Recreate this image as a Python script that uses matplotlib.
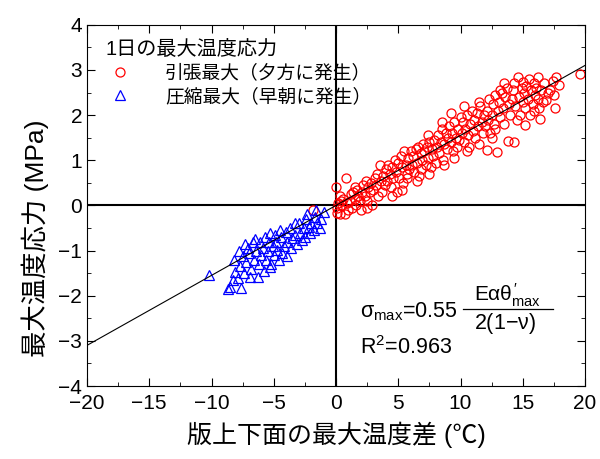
import matplotlib
matplotlib.use("Agg")
import matplotlib.pyplot as plt
import numpy as np
from matplotlib.ticker import MultipleLocator

plt.rcParams['font.family'] = ['Liberation Sans', 'Noto Sans CJK JP', 'DejaVu Sans']
plt.rcParams['mathtext.fontset'] = 'custom'
plt.rcParams['mathtext.rm'] = 'Liberation Sans'
plt.rcParams['mathtext.it'] = 'Liberation Sans'
plt.rcParams['mathtext.bf'] = 'Liberation Sans:bold'

# tension maxima (evening): top-bottom temperature difference vs stress
tension_pts = [
    (0.1, -0.05), (0.2, 0.05), (0.3, -0.2), (0.4, 0.1), (0.5, 0.0), (0.6, 0.15), (0.7, -0.2),
    (0.8, 0.6), (0.9, 0.05), (0.0, 0.4), (0.3, 0.2), (1.0, -0.1), (0.1, -0.17), (-1.85, -0.1),
    (1.1, 0.1), (1.2, 0.25), (1.3, -0.05), (1.4, 0.3), (1.5, 0.15), (1.6, 0.0), (1.7, 0.35),
    (1.8, 0.2), (1.9, 0.1), (2.0, -0.1), (1.5, 0.4),
    (2.1, 0.3), (2.2, 0.45), (2.3, 0.2), (2.4, 0.55), (2.5, 0.1), (2.6, 0.4), (2.7, 0.3),
    (2.8, 0.5), (2.9, 0.0), (3.0, 0.35), (2.5, -0.05),
    (3.1, 0.6), (3.2, 0.45), (3.3, 0.7), (3.5, 0.9), (3.6, 0.55), (3.7, 0.3), (3.8, 0.65),
    (3.9, 0.45), (4.0, 0.8), (3.4, 0.2),
    (4.1, 0.55), (4.2, 0.9), (4.3, 0.7), (4.4, 0.4), (4.5, 0.85), (4.6, 0.6), (4.7, 1.0),
    (4.8, 0.75), (4.9, 0.3), (5.0, 0.95), (4.5, 0.2),
    (5.1, 0.6), (5.2, 1.1), (5.3, 0.85), (5.4, 0.5), (5.5, 1.2), (5.6, 0.9), (5.7, 0.7),
    (5.8, 1.05), (5.9, 0.8), (6.0, 1.2), (5.3, 0.35), (5.7, 0.6),
    (6.1, 0.9), (6.2, 1.1), (6.3, 0.75), (6.4, 1.25), (6.5, 0.95), (6.6, 1.3), (6.7, 0.65),
    (6.8, 1.15), (6.9, 1.0), (7.0, 1.35), (6.5, 0.55), (6.8, 0.8),
    (7.1, 1.2), (7.2, 0.9), (7.3, 1.3), (7.4, 1.05), (7.5, 1.4), (7.6, 0.85), (7.7, 1.25),
    (7.8, 1.1), (7.9, 1.45), (8.0, 0.95), (7.5, 0.7), (7.4, 1.55),
    (8.1, 1.3), (8.2, 1.55), (8.3, 1.15), (8.4, 1.4), (8.5, 1.7), (8.6, 1.0), (8.7, 1.35),
    (8.8, 1.6), (8.9, 1.25), (9.0, 1.5), (8.5, 1.85), (8.7, 0.9),
    (9.1, 1.75), (9.2, 1.4), (9.3, 1.6), (9.4, 1.2), (9.5, 1.85), (9.6, 1.5), (9.7, 1.3),
    (9.8, 1.7), (9.9, 1.45), (10.0, 1.95), (9.5, 1.05), (9.2, 2.05),
    (10.1, 1.6), (10.2, 1.85), (10.3, 1.4), (10.4, 1.7), (10.5, 2.0), (10.6, 1.55), (10.7, 1.3),
    (10.8, 1.8), (10.9, 2.1), (11.0, 1.65), (10.5, 1.2), (10.3, 2.2),
    (11.1, 1.9), (11.2, 1.5), (11.3, 2.05), (11.4, 1.75), (11.5, 1.35), (11.6, 2.2), (11.7, 1.85),
    (11.8, 1.6), (11.9, 2.0), (12.0, 1.75), (11.5, 2.3), (12.1, 1.23),
    (12.1, 2.1), (12.2, 1.9), (12.3, 2.35), (12.4, 1.6), (12.5, 2.0), (12.6, 2.25), (12.7, 1.8),
    (12.8, 2.45), (12.9, 1.19), (13.0, 2.1), (12.5, 1.5), (12.8, 1.7),
    (13.1, 2.3), (13.2, 1.95), (13.3, 2.5), (13.4, 2.15), (13.5, 1.8), (13.6, 2.4), (13.7, 2.6),
    (13.8, 1.43), (13.9, 2.25), (14.0, 2.0), (13.5, 2.7), (13.2, 2.55),
    (14.1, 2.35), (14.2, 2.55), (14.3, 1.41), (14.4, 2.2), (14.6, 2.85), (14.7, 2.4), (14.8, 2.0),
    (14.9, 2.6), (15.0, 2.74), (14.5, 1.9), (14.3, 2.7), (15.0, 2.3),
    (15.1, 2.5), (15.2, 2.15), (15.3, 2.65), (15.4, 2.35), (15.5, 2.8), (15.6, 2.0), (15.7, 2.55),
    (15.8, 2.25), (15.9, 2.7), (16.0, 2.45), (15.2, 1.78), (15.9, 2.1),
    (16.1, 2.6), (16.2, 2.35), (16.2, 2.85), (16.4, 1.92), (16.5, 2.55), (16.6, 2.3), (16.7, 2.7),
    (16.9, 2.34), (17.0, 2.5), (16.3, 2.15),
    (17.2, 2.55), (17.4, 2.75), (17.6, 2.15), (17.7, 2.85), (17.9, 2.67), (17.5, 2.45),
    (19.6, 2.9),
]

# compression maxima (early morning)
compression_pts = [
    (-1.0, -0.14), (-1.2, -0.3), (-1.5, -0.39), (-1.3, -0.5), (-1.7, -0.25), (-1.8, -0.55),
    (-2.0, -0.4), (-2.2, -0.47), (-2.1, -0.61), (-2.4, -0.3), (-2.5, -0.7), (-2.7, -0.77),
    (-2.6, -0.5), (-2.9, -0.61), (-3.0, -0.4), (-3.1, -0.85), (-3.3, -0.39), (-3.3, -0.65),
    (-3.5, -0.73), (-3.6, -0.95), (-3.7, -0.5), (-3.9, -1.13), (-3.9, -0.8), (-4.0, -0.6),
    (-4.2, -0.9), (-4.3, -1.05), (-4.4, -0.7), (-4.5, -0.55), (-4.6, -1.2), (-4.7, -0.99),
    (-4.8, -0.8), (-4.9, -0.65), (-5.0, -1.1), (-5.1, -0.9), (-5.2, -1.3), (-5.3, -0.61),
    (-5.3, -1.36), (-5.4, -0.8), (-5.5, -1.0), (-5.6, -1.2), (-5.7, -0.7), (-5.8, -1.45),
    (-5.9, -0.95), (-6.0, -1.1), (-6.1, -0.8), (-6.2, -1.3), (-6.3, -1.58), (-6.4, -1.0),
    (-6.5, -0.75), (-6.6, -1.2), (-6.7, -0.8), (-6.8, -1.4), (-6.9, -1.58), (-7.0, -1.05),
    (-7.1, -0.95), (-7.2, -1.25), (-7.3, -0.85), (-7.4, -1.5), (-7.5, -1.13), (-7.6, -1.83),
    (-7.7, -1.35), (-7.8, -1.0), (-7.9, -1.6), (-8.1, -1.47), (-8.2, -1.2), (-8.5, -1.8),
    (-8.7, -1.85), (-8.3, -1.65), (-10.2, -1.54), (-1.6, -0.1), (-2.3, -0.2),
]

slope = 0.155
fit_x = [-20, 20]
xticks = np.arange(-20, 21, 5)
yticks = np.arange(-4, 5, 1)

tx, ty = zip(*tension_pts)
cx, cy = zip(*compression_pts)

fig = plt.figure(figsize=(6.0, 4.59), dpi=100)
ax = fig.add_axes([0.145, 0.159, 0.83, 0.787])

ax.axhline(0, color='black', lw=1.5, zorder=1)
ax.axvline(0, color='black', lw=1.5, zorder=1)

ax.plot(tx, ty, 'o', ms=6.5, mfc='none', mec='red', mew=0.9, ls='none',
        label='引張最大（夕方に発生）', zorder=2)
ax.plot(cx, cy, '^', ms=7, mfc='none', mec='blue', mew=0.9, ls='none',
        label='圧縮最大（早朝に発生）', zorder=2)
ax.plot(fit_x, [slope * v for v in fit_x], color='black', lw=0.8, zorder=3)

ax.set_xlim(-20, 20)
ax.set_ylim(-4, 4)
ax.set_xticks(xticks)
ax.set_yticks(yticks)
ax.set_xticklabels([str(v).replace('-', '\u2212') for v in xticks])
ax.set_yticklabels([str(v).replace('-', '\u2212') for v in yticks])
ax.xaxis.set_minor_locator(MultipleLocator(2.5))
ax.yaxis.set_minor_locator(MultipleLocator(0.5))
ax.tick_params(which='both', direction='in', top=True, right=True, labelsize=15)
ax.tick_params(which='major', length=6)
ax.tick_params(which='minor', length=3)
ax.tick_params(axis='x', pad=6)

ax.set_xlabel('版上下面の最大温度差 (℃)', fontsize=18, labelpad=6)
ax.set_ylabel('最大温度応力 (MPa)', fontsize=19)
ax.yaxis.set_label_coords(-0.076, 0.41)

leg = ax.legend(loc='upper left', title='1日の最大温度応力', frameon=False,
                fontsize=13.5, title_fontsize=14.5, handlelength=1.5, handletextpad=1.65,
                borderpad=0, borderaxespad=0, labelspacing=0.3, alignment='left',
                bbox_to_anchor=(0.038, 0.958))

# formula block
ax.text(1.9, -2.36, r'$\sigma_{\mathrm{max}}$=0.55', fontsize=15.5, va='center', ha='left')
ax.text(13.8, -1.99, r'E$\alpha\theta^{\prime}_{\mathrm{max}}$', fontsize=15, va='center', ha='center')
ax.plot([10.2, 17.4], [-2.29, -2.29], color='black', lw=0.9)
ax.text(13.6, -2.62, r'2(1$-\nu$)', fontsize=15.5, va='center', ha='center')
ax.text(1.9, -3.14, r'R$^2$=0.963', fontsize=15.5, va='center', ha='left')

fig.savefig('out.png', dpi=100)
